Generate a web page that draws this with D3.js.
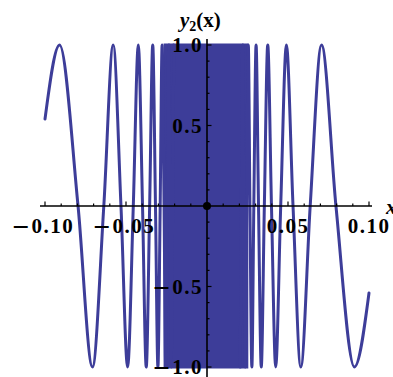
<!DOCTYPE html>
<html>
<head>
<meta charset="utf-8">
<script src="https://cdn.jsdelivr.net/npm/d3@7"></script>
<style>
  body { margin: 0; background: #fff; }
  svg { display: block; }
  .lbl { font-family: "Liberation Serif", "Times New Roman", serif; font-weight: bold; font-size: 21px; fill: #000; }
</style>
</head>
<body>
<div id="chart"></div>
<script>
// Turning points and zero crossings, left half
var leftX = [-0.1000, -0.0910, -0.0796, -0.0707, -0.0637, -0.0579, -0.0531, -0.0490, -0.0455,
  -0.0424, -0.0398, -0.0375, -0.0354, -0.0335, -0.0318, -0.0303, -0.0289, -0.0277, -0.0265,
  -0.0255, -0.0245, -0.0236, -0.0227, -0.0220, -0.0212, -0.0205];
var leftY = [0.54, 1, 0, -1, 0, 1, 0, -1, 0,
  1, 0, -1, 0, 1, 0, -1, 0, 1, 0,
  -1, 0, 1, 0, -1, 0, 1];

// right half
var rightX = [0.0205, 0.0212, 0.0220, 0.0227, 0.0236, 0.0245, 0.0255, 0.0265, 0.0277,
  0.0289, 0.0303, 0.0318, 0.0335, 0.0354, 0.0375, 0.0398, 0.0424, 0.0455,
  0.0490, 0.0531, 0.0579, 0.0637, 0.0707, 0.0796, 0.0910, 0.1000];
var rightY = [-1, 0, 1, 0, -1, 0, 1, 0, -1,
  0, 1, 0, -1, 0, 1, 0, -1, 0,
  1, 0, -1, 0, 1, 0, -1, -0.54];

// middle part where the wiggles blur into a solid block
var denseX = [-0.0268, 0.0255];
var denseY = [-1, 1];

// ticks
var xTickLabels = ["\u22120.10", "\u22120.05", "0.05", "0.10"];
var xTickValues = [-0.10, -0.05, 0.05, 0.10];
var yTickLabels = ["\u22121.0", "\u22120.5", "0.5", "1.0"];
var yTickValues = [-1.0, -0.5, 0.5, 1.0];

var svgWidth = 393;
var svgHeight = 377;
var color = "#3d3d99";

var svg = d3.select("#chart")
  .append("svg")
  .attr("width", svgWidth)
  .attr("height", svgHeight);

var xScale = d3.scaleLinear().domain([-0.1, 0.1]).range([45, 369]);
var yScale = d3.scaleLinear().domain([-1, 1]).range([367, 45]);

// dense block
svg.append("rect")
  .attr("x", xScale(denseX[0]))
  .attr("width", xScale(denseX[1]) - xScale(denseX[0]))
  .attr("y", yScale(denseY[1]) - 1.5)
  .attr("height", yScale(denseY[0]) - yScale(denseY[1]) + 3)
  .attr("fill", color);

var line = d3.line()
  .x(d => xScale(d[0]))
  .y(d => yScale(d[1]))
  .curve(d3.curveMonotoneX);

[[leftX, leftY], [rightX, rightY]].forEach(function (s) {
  var pts = s[0].map((x, i) => [x, s[1][i]]);
  svg.append("path")
    .datum(pts)
    .attr("d", line)
    .attr("fill", "none")
    .attr("stroke", color)
    .attr("stroke-width", 3)
    .attr("stroke-linejoin", "round")
    .attr("stroke-linecap", "round");
});

// axes
var x0 = xScale(0), y0 = yScale(0);
svg.append("line")
  .attr("x1", 40).attr("x2", 372)
  .attr("y1", y0).attr("y2", y0)
  .attr("stroke", "#000").attr("stroke-width", 1.6);
svg.append("line")
  .attr("x1", x0).attr("x2", x0)
  .attr("y1", 39).attr("y2", svgHeight)
  .attr("stroke", "#000").attr("stroke-width", 1.6);

// x ticks (upwards), minor every 0.01
xScale.ticks(20).forEach(function (t) {
  if (Math.abs(t) < 1e-9) return;
  var major = Math.abs(Math.round(t * 100) % 5) === 0;
  svg.append("line")
    .attr("x1", xScale(t)).attr("x2", xScale(t))
    .attr("y1", y0).attr("y2", y0 - (major ? 4.5 : 2.5))
    .attr("stroke", "#000").attr("stroke-width", 1.2);
});
// y ticks (to the right), minor every 0.1
yScale.ticks(20).forEach(function (t) {
  if (Math.abs(t) < 1e-9) return;
  var major = Math.abs(Math.round(t * 10) % 5) === 0;
  svg.append("line")
    .attr("x1", x0).attr("x2", x0 + (major ? 4.5 : 2.5))
    .attr("y1", yScale(t)).attr("y2", yScale(t))
    .attr("stroke", "#000").attr("stroke-width", 1.2);
});

// a label with a wide, heavy minus sign like the original
function addLabel(sel, txt) {
  var neg = txt.charAt(0) === "\u2212";
  if (neg) {
    sel.append("tspan")
      .attr("font-size", "27px")
      .attr("letter-spacing", "4px")
      .text("\u2013");
  }
  sel.append("tspan")
    .attr("letter-spacing", "1.5px")
    .text(neg ? txt.slice(1) : txt);
}

// tick labels
svg.selectAll(".xl")
  .data(xTickValues)
  .enter()
  .append("text")
  .attr("class", "lbl")
  .attr("x", d => xScale(d) + (d < 0 ? -1 : 0))
  .attr("y", y0 + 27)
  .attr("text-anchor", "middle")
  .each(function (d, i) { addLabel(d3.select(this), xTickLabels[i]); });

svg.selectAll(".yl")
  .data(yTickValues)
  .enter()
  .append("text")
  .attr("class", "lbl")
  .attr("x", x0 - 4)
  .attr("y", d => yScale(d) + 7)
  .attr("text-anchor", "end")
  .each(function (d, i) { addLabel(d3.select(this), yTickLabels[i]); });

// axis names
var yName = svg.append("text")
  .attr("class", "lbl")
  .attr("x", 180)
  .attr("y", 27);
yName.append("tspan").attr("font-style", "italic").text("y");
yName.append("tspan").attr("font-size", "14px").attr("dy", 4).text("2");
yName.append("tspan").attr("dy", -4).text("(x)");

svg.append("text")
  .attr("class", "lbl")
  .attr("x", 386)
  .attr("y", 214)
  .attr("font-style", "italic")
  .text("x");

// origin dot
svg.append("circle")
  .attr("cx", x0)
  .attr("cy", y0)
  .attr("r", 4)
  .attr("fill", "#000");
</script>
</body>
</html>
